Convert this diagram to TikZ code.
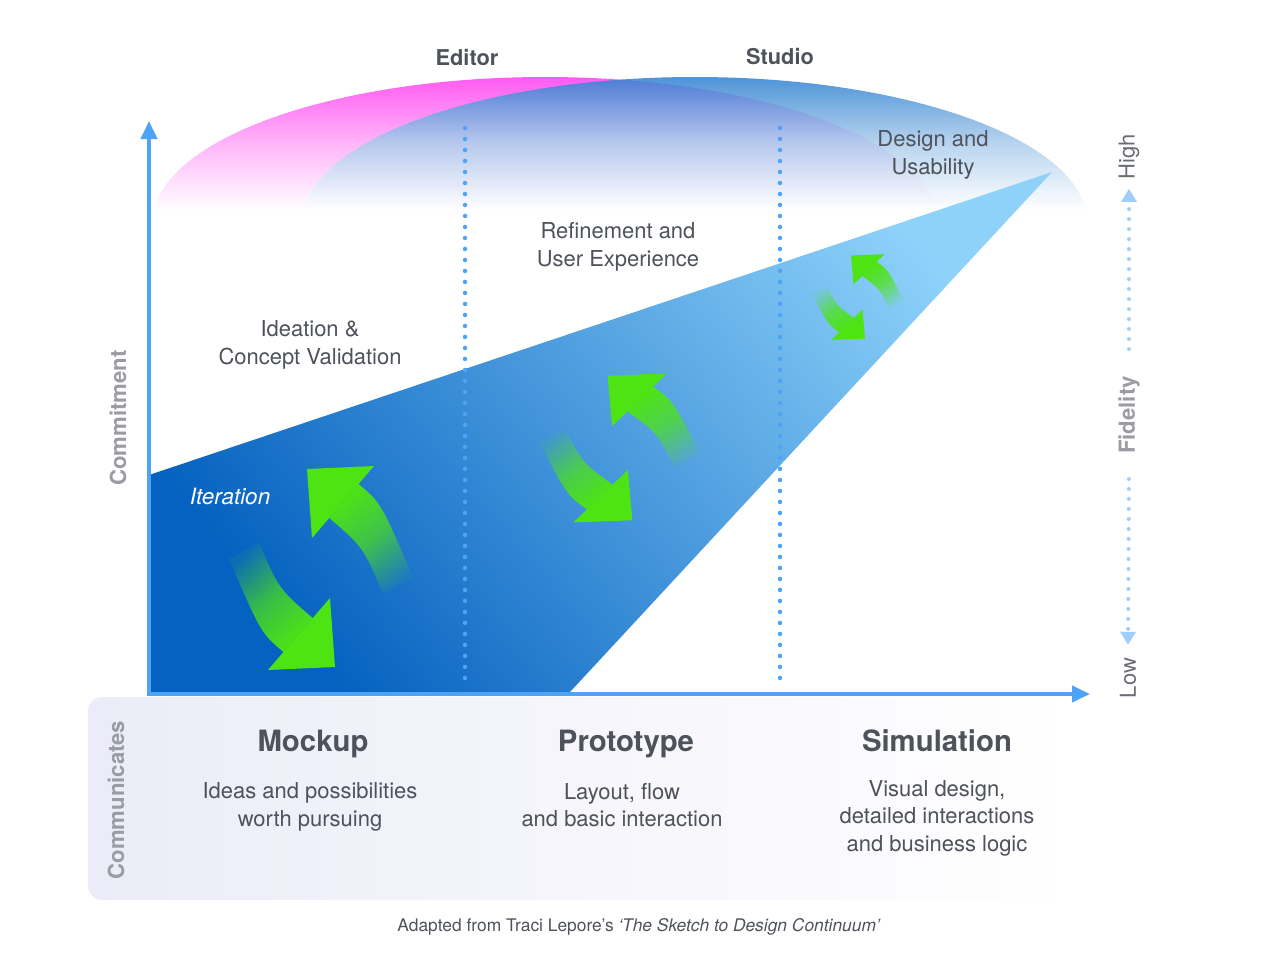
\documentclass[tikz,border=0pt]{standalone}
\usepackage{fontspec}
\setmainfont{TeX Gyre Heros}
\usetikzlibrary{arrows.meta,fadings}

\definecolor{inkgray}{RGB}{78,82,90}
\definecolor{axisgray}{RGB}{155,156,162}
\definecolor{axisblue}{RGB}{77,163,245}
\definecolor{fidblue}{RGB}{160,206,250}
\definecolor{editorpink}{RGB}{255,90,242}
\definecolor{studioblue}{RGB}{45,128,208}
\definecolor{wedgedark}{RGB}{6,98,192}
\definecolor{wedgelight}{RGB}{142,210,250}
\definecolor{itergreen}{RGB}{78,228,20}
\definecolor{panellav}{RGB}{236,236,248}

\tikzfading[name=bandfade,left color=transparent!92,right color=transparent!0,middle color=transparent!30]

\begin{document}
\begin{tikzpicture}[x=0.02cm,y=-0.02cm,
	txt/.style={text=inkgray,align=center,font=\fontsize{12.5}{15.6}\selectfont},
	tool/.style={text=inkgray,font=\fontsize{12.4}{15}\selectfont\bfseries},
	kind/.style={text=inkgray,anchor=base,font=\fontsize{16.7}{20}\selectfont\bfseries},
	side/.style={text=axisgray,rotate=90,font=\fontsize{12.6}{15}\selectfont\bfseries},
	level/.style={text=inkgray!85,rotate=90,font=\fontsize{12.5}{15}\selectfont},
	axisline/.style={axisblue,line width=0.08cm,{Triangle[length=0.36cm,width=0.32cm]}-{Triangle[length=0.36cm,width=0.32cm]}},
	divider/.style={axisblue,line width=0.09cm,line cap=round,dash pattern=on 0pt off 0.22cm},
	fidline/.style={fidblue,line width=0.08cm,line cap=round,dash pattern=on 0pt off 0.2cm,-{Triangle[length=0.26cm,width=0.3cm]}},
	pics/iterpair/.style={code={
		% up
		\fill[itergreen] (-14,-99) -- (53,-102) -- (-9,-30) -- cycle;
		\fill[itergreen,path fading=bandfade,fading angle=123]
		(37.5,-84) .. controls (60,-65) .. (92,9) -- (62,25) .. controls (42,-21) .. (8.4,-50) -- cycle;
		% down
		\fill[itergreen] (14,99) -- (-53,102) -- (9,30) -- cycle;
		\fill[itergreen,path fading=bandfade,fading angle=-57]
		(-37.5,84) .. controls (-60,65) .. (-92,-9) -- (-62,-25) .. controls (-42,21) .. (-8.4,50) -- cycle;
	}}]
		\useasboundingbox (0,0) rectangle (1275,954);
		% editor arc
		\begin{scope}
		\clip (545,222) ellipse [x radius=392,y radius=145];
		\shade[top color=editorpink,bottom color=white,middle color=editorpink!45] (140,76) rectangle (950,210);
		\end{scope}
		% studio arc
		\begin{scope}
		\clip (695,222) ellipse [x radius=392,y radius=145];
		\shade[top color=studioblue,bottom color=white,middle color=studioblue!40,opacity=0.85] (290,76) rectangle (1100,210);
		\end{scope}
		% communicates panel
		\shade[left color=panellav,right color=white,rounded corners=0.28cm] (88,697) rectangle (1078,900);
		% fidelity wedge
		\shade[bottom color=wedgedark,top color=wedgelight,shading angle=-50]
		(149,475) -- (1052,172) -- (570,692) -- (149,692) -- cycle;
		% iteration arrows
		\pic (mockiter) at (321,568) {iterpair};
		\pic[xscale=0.88,yscale=0.73] (protoiter) at (620,448) {iterpair};
		\pic[xscale=0.5,yscale=0.42] (simiter) at (858,297) {iterpair};
		% dividers
		\coordinate (editortop) at (465,128);
		\coordinate (editorbot) at (465,686);
		\coordinate (studiotop) at (780,128);
		\coordinate (studiobot) at (780,686);
		\draw[divider] (editortop) -- (editorbot);
		\draw[divider] (studiotop) -- (studiobot);
		% axes
		\coordinate (origin) at (149,694);
		\coordinate (ytip) at (149,121);
		\coordinate (xtip) at (1090,694);
		\draw[axisline] (ytip) -- (origin) -- (xtip);
		% labels
		\node[tool] (editor) at (467,57) {Editor};
		\node[tool] (studio) at (780,57) {Studio};
		\node[txt] (design) at (933,155) {Design and\\Usability};
		\node[txt] (refine) at (618,247) {Refinement and\\User Experience};
		\node[txt] (ideation) at (310,345) {Ideation \&\\Concept Validation};
		\node[txt,text=white,font=\fontsize{12.8}{15}\selectfont\itshape] (iteration) at (230,496) {Iteration};
		\node[side] (commit) at (118,418) {Commitment};
		\node[side] (comm) at (116,800) {Communicates};
		% fidelity scale
		\node[level] (high) at (1129,157) {High};
		\node[side] (fidelity) at (1129,415) {Fidelity};
		\node[level] (low) at (1128,678) {Low};
		\draw[fidline] ([yshift=0.42cm]fidelity.east) -- ([yshift=-0.06cm]high.west);
		\draw[fidline] ([yshift=-0.38cm]fidelity.west) -- ([yshift=0.14cm]low.east);
		% outputs
		\node[kind] (mockup) at (313,751) {Mockup};
		\node[kind] (prototype) at (626,751) {Prototype};
		\node[kind] (simulation) at (937,751) {Simulation};
		\node[txt] (mockupnote) at (310,807) {Ideas and possibilities\\worth pursuing};
		\node[txt] (protonote) at (622,805) {Layout, flow\\and basic interaction};
		\node[txt] (simnote) at (937,818) {Visual design,\\detailed interactions\\and business logic};
		\node[text=inkgray,font=\fontsize{9.9}{12}\selectfont] (credit) at (639,927) {Adapted from Traci Lepore’s \textit{‘The Sketch to Design Continuum’}};
\end{tikzpicture}
\end{document}
